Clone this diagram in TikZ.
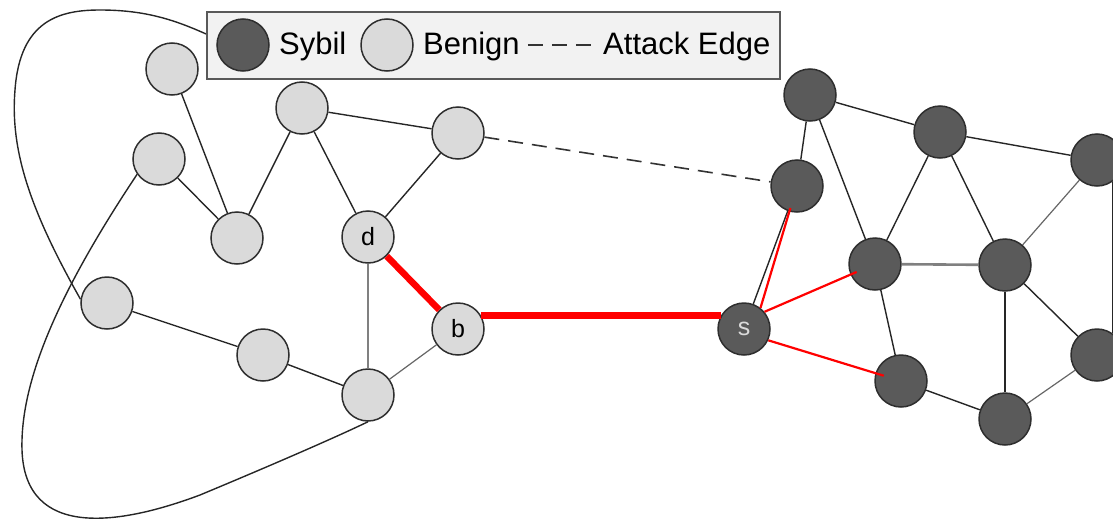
\documentclass[tikz,border=0pt]{standalone}
\usepackage{fontspec}
\setmainfont{Liberation Sans}
\usetikzlibrary{arrows.meta,positioning,calc}
\definecolor{benign}{HTML}{DADADA}
\definecolor{sybil}{HTML}{5A5A5A}
\definecolor{rim}{HTML}{2E2E2E}
\definecolor{legendbg}{HTML}{F2F2F2}
\definecolor{attack}{HTML}{FF0000}

\begin{document}
\begin{tikzpicture}[x=1pt,y=-1pt,
  hon/.style={circle,draw=rim,line width=1.5pt,fill=benign,minimum size=52pt,inner sep=0pt,font=\fontsize{25}{28}\selectfont},
  syb/.style={hon,fill=sybil,text=benign},
  link/.style={line width=1.4pt,draw=black!85},
  thinlink/.style={line width=1.2pt,draw=black!60},
  greylink/.style={line width=2.6pt,draw=black!50},
  walk/.style={line width=6.5pt,draw=attack},
  hop/.style={line width=2.2pt,draw=attack},
  atk/.style={line width=1.6pt,draw=black!80,dash pattern=on 15pt off 9pt},
  lbl/.style={inner sep=0pt,font=\fontsize{31}{36}\selectfont,anchor=base west},
]
  \useasboundingbox (0,0) rectangle (1113,522);

  % benign region
  \node[hon] (h1) at (172,69) {};
  \node[hon] (h2) at (302,108) {};
  \node[hon] (h3) at (458,133) {};
  \node[hon] (h4) at (159,159) {};
  \node[hon] (h5) at (237,238) {};
  \node[hon] (nd) at (368,237) {d};
  \node[hon] (h6) at (107,303) {};
  \node[hon] (h7) at (263,355) {};
  \node[hon] (h8) at (368,395) {};
  \node[hon] (nb) at (458,329) {b};

  \draw[link] (h1) -- (h5);
  \draw[link] (h4) -- (h5);
  \draw[link] (h2) -- (h5);
  \draw[link] (h2) -- (h3);
  \draw[link] (h2) -- (nd);
  \draw[link] (h3) -- (nd);
  \draw[link] (h6) -- (h7);
  \draw[link] (h7) -- (h8);
  \draw[thinlink] (h8) -- (nb);
  \draw[greylink] (nd) -- (h8);

  % lasso round the benign region
  \draw[link] (h6.172) .. controls (30,210) and (10,150) .. (15,90)
    .. controls (20,20) and (60,10) .. (100,10)
    .. controls (150,10) and (180,22) .. (215,38);
  \draw[link] (h4.215) .. controls (60,290) and (20,380) .. (22,450)
    .. controls (25,540) and (120,525) .. (200,495)
    .. controls (260,470) and (330,440) .. (h8.south);

  % sybil region
  \node[syb] (s1) at (810,95) {};
  \node[syb] (s2) at (940,132) {};
  \node[syb] (s3) at (1097,160) {};
  \node[syb] (s4) at (797,186) {};
  \node[syb] (s5) at (875,264) {};
  \node[syb] (s6) at (1005,265) {};
  \node[syb] (ns) at (744,329) {s};
  \node[syb] (s7) at (1097,355) {};
  \node[syb] (s8) at (901,381) {};
  \node[syb] (s9) at (1005,419) {};

  \draw[link] (s1) -- (s4);
  \draw[link] (s1) -- (s2);
  \draw[link] (s1) -- (s5);
  \draw[link] (s2) -- (s3);
  \draw[link] (s2) -- (s5);
  \draw[link] (s2) -- (s6);
  \draw[thinlink] (s3) -- (s6);
  \draw[greylink] (s5) -- (s6);
  \draw[link] (s5) -- (s8);
  \draw[link] (s6) -- (s9);
  \draw[link] (s6) -- (s7);
  \draw[link] (s8) -- (s9);
  \draw[thinlink] (s9) -- (s7);
  \draw[link] (s3.-55) -- (s7.55);
  \draw[link] (s4) -- (ns);

  % attack edge
  \draw[atk] (h3) -- (s4);

  % walk from d to s and on
  \draw[walk] (nd) -- (nb);
  \draw[walk] (nb.30) -- (ns.150);
  \draw[hop,shorten >=23pt] (ns.52) -- (s4.center);
  \draw[hop,shorten >=20pt] (ns.40) -- (s5.center);
  \draw[hop,shorten >=18pt] (ns.-25) -- (s8.center);

  % legend
  \node[draw=black!65,line width=1.8pt,fill=legendbg,minimum width=573pt,minimum height=67pt,inner sep=0pt] (legend) at (493.5,45.5) {};
  \node[syb] (legsyb) at (243,45) {};
  \node[lbl] (legsybtxt) at (279,54) {Sybil};
  \node[hon] (legben) at (387,45) {};
  \node[lbl] (legbentxt) at (423,54) {Benign};
  \node[lbl] (legatktxt) at (603,54) {Attack Edge};
  \draw[atk] ([xshift=8pt,yshift=9pt]legbentxt.base east) -- ([xshift=-12pt,yshift=9pt]legatktxt.base west);
\end{tikzpicture}
\end{document}
